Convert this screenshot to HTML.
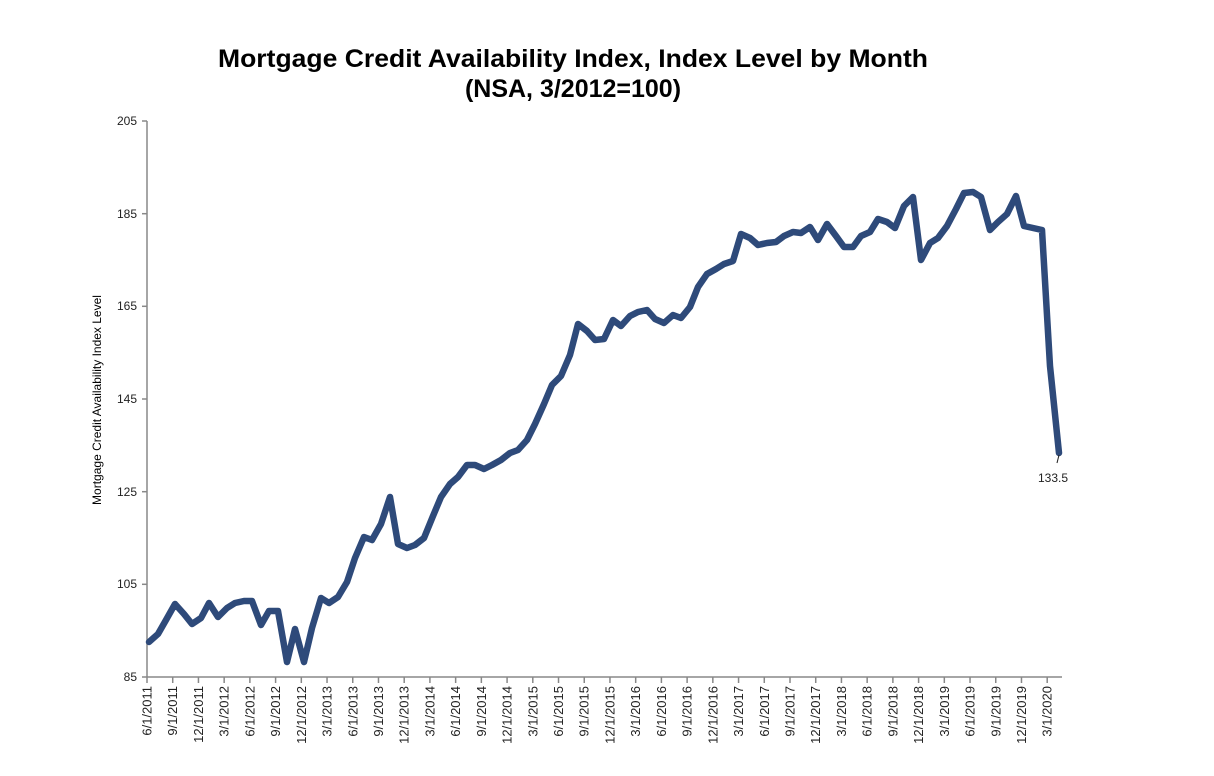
<!DOCTYPE html>
<html><head><meta charset="utf-8"><style>body{margin:0;background:#fff}svg{display:block}</style></head><body>
<svg width="1214" height="776" xmlns="http://www.w3.org/2000/svg" font-family="Liberation Sans, Arial, sans-serif">
<text x="573" y="67" font-size="25" font-weight="bold" text-anchor="middle" textLength="710" lengthAdjust="spacingAndGlyphs">Mortgage Credit Availability Index, Index Level by Month</text>
<text x="573" y="97" font-size="25" font-weight="bold" text-anchor="middle">(NSA, 3/2012=100)</text>
<text transform="translate(101,400) rotate(-90)" font-size="12" text-anchor="middle">Mortgage Credit Availability Index Level</text>
<g stroke="#888" stroke-width="1.5" fill="none">
<line x1="147" y1="121" x2="147" y2="677"/>
<line x1="147" y1="677" x2="1062" y2="677"/>
<line x1="142" y1="121" x2="147" y2="121"/><line x1="142" y1="213.7" x2="147" y2="213.7"/><line x1="142" y1="306.3" x2="147" y2="306.3"/><line x1="142" y1="399" x2="147" y2="399"/><line x1="142" y1="491.7" x2="147" y2="491.7"/><line x1="142" y1="584.3" x2="147" y2="584.3"/><line x1="142" y1="677" x2="147" y2="677"/>
</g>
<g font-size="12" text-anchor="end" fill="#222">
<text x="137" y="125">205</text><text x="137" y="218">185</text><text x="137" y="310">165</text><text x="137" y="403">145</text><text x="137" y="496">125</text><text x="137" y="588">105</text><text x="137" y="681">85</text>
</g>
<g id="xt" stroke="#888" stroke-width="1.5"></g>
<g id="xl" font-size="13" text-anchor="end" fill="#222"></g>
<polyline fill="none" stroke="#2e4a7a" stroke-width="6.5" stroke-linejoin="round" stroke-linecap="round" points="149,642 158,634 166,620 175,604 184,614 192,624 201,618 209,603 218,617 227,608 235,603 244,601 252,601 261,625 269,611 278,611 287,662 295,629 304,662 312,628 321,598 329,603 338,597 347,582 355,558 364,537 372,540 381,524 390,497 398,544 407,548 415,545 424,538 433,516 441,497 450,484 458,477 467,465 475,465 484,469 492,465 501,460 510,453 518,450 527,440 535,424 544,404 552,385 561,376 570,355 578,324 587,331 595,340 604,339 613,320 621,326 630,316 638,312 647,310 655,319 664,323 673,315 681,318 690,307 698,287 707,274 716,269 724,264 733,261 741,234 750,238 758,245 767,243 776,242 784,236 793,232 801,233 810,227 818,240 827,224 836,236 844,247 853,247 861,236 870,232 878,219 887,222 895,228 904,206 913,197 921,260 930,243 938,238 947,226 956,209 964,193 973,192 981,197 990,230 998,222 1007,214 1016,196 1024,226 1033,228 1042,230 1050,366 1059,453"/>
<line x1="1057" y1="463" x2="1059" y2="455" stroke="#222" stroke-width="1"/>
<text x="1053" y="482" font-size="12" text-anchor="middle" fill="#222">133.5</text>
<script>
var labs=["6/1/2011","9/1/2011","12/1/2011","3/1/2012","6/1/2012","9/1/2012","12/1/2012","3/1/2013","6/1/2013","9/1/2013","12/1/2013","3/1/2014","6/1/2014","9/1/2014","12/1/2014","3/1/2015","6/1/2015","9/1/2015","12/1/2015","3/1/2016","6/1/2016","9/1/2016","12/1/2016","3/1/2017","6/1/2017","9/1/2017","12/1/2017","3/1/2018","6/1/2018","9/1/2018","12/1/2018","3/1/2019","6/1/2019","9/1/2019","12/1/2019","3/1/2020"];
var t=document.getElementById('xt'),l=document.getElementById('xl'),ns="http://www.w3.org/2000/svg";
labs.forEach(function(s,i){var x=147+i*25.72;
var ln=document.createElementNS(ns,'line');ln.setAttribute('x1',x);ln.setAttribute('x2',x);ln.setAttribute('y1',677);ln.setAttribute('y2',683);t.appendChild(ln);
var tx=document.createElementNS(ns,'text');tx.setAttribute('transform','translate('+(x+4.5)+',686) rotate(-90)');tx.textContent=s;l.appendChild(tx);});
</script>
</svg>
</body></html>
